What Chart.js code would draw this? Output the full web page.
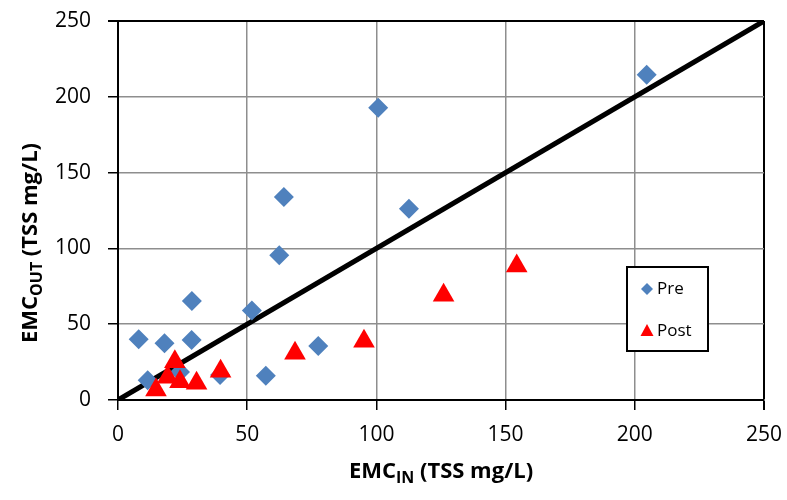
<!DOCTYPE html>
<html>
<head>
<meta charset="utf-8">
<script src="https://cdn.jsdelivr.net/npm/chart.js@4/dist/chart.umd.min.js"></script>
<style>
  body { margin: 0; background: #fff; }
  #wrap { width: 787px; height: 500px; }
</style>
</head>
<body>
<div id="wrap"><canvas id="grafico" width="787" height="500"></canvas></div>
<script>
// ========== DATOS ==========
const preX  = [8, 18, 11.5, 24, 28.6, 28.5, 39.5, 51.8, 57.2, 62.4, 64.2, 77.5, 100.7, 112.6, 204.6];
const preY  = [40, 37.5, 13, 18.5, 65.3, 39.5, 16.5, 59, 16, 95.4, 133.9, 35.7, 192.7, 126.2, 214.5];
const postX = [14.7, 19.2, 22, 24, 30.4, 39.7, 68.5, 95.2, 126, 154.3];
const postY = [6.6, 15, 25.2, 12, 11, 19, 30.9, 38.8, 69.1, 88.4];
const lineaX = [0, 250];
const lineaY = [0, 250];
const ticksEje = [0, 50, 100, 150, 200, 250];
const etiquetasSerie = ['Pre', 'Post'];

const FUENTE = "'Open Sans', 'DejaVu Sans', sans-serif";
const AZUL = '#4f81bd';
const ROJO = '#ff0000';

const puntos = (xs, ys) => xs.map((x, i) => ({ x, y: ys[i] }));

// ========== PLUGIN: titulos con subindice y leyenda ==========
function textoConSub(ctx, base, sub, resto, x, y, size) {
  const subSize = Math.round(size * 0.72);
  ctx.font = `bold ${size}px ${FUENTE}`;
  const w1 = ctx.measureText(base).width;
  const w3 = ctx.measureText(resto).width;
  ctx.font = `bold ${subSize}px ${FUENTE}`;
  const w2 = ctx.measureText(sub).width;
  let cx = x - (w1 + w2 + w3) / 2;
  ctx.textAlign = 'left';
  ctx.textBaseline = 'alphabetic';
  ctx.font = `bold ${size}px ${FUENTE}`;
  ctx.fillText(base, cx, y);
  cx += w1;
  ctx.font = `bold ${subSize}px ${FUENTE}`;
  ctx.fillText(sub, cx, y + 5);
  cx += w2;
  ctx.font = `bold ${size}px ${FUENTE}`;
  ctx.fillText(resto, cx, y);
}

const extras = {
  id: 'extras',
  afterDraw(chart) {
    const ctx = chart.ctx;
    const area = chart.chartArea;
    ctx.save();
    ctx.fillStyle = '#000';

    // titulo eje X
    textoConSub(ctx, 'EMC', 'IN', ' (TSS mg/L)', (area.left + area.right) / 2, 478, 22);

    // titulo eje Y
    ctx.save();
    ctx.translate(37, 243);
    ctx.rotate(-Math.PI / 2);
    textoConSub(ctx, 'EMC', 'OUT', ' (TSS mg/L)', 0, 0, 22);
    ctx.restore();

    // leyenda
    const lx = 627, ly = 267, lw = 81, lh = 84;
    ctx.fillStyle = '#fff';
    ctx.fillRect(lx, ly, lw, lh);
    ctx.strokeStyle = '#000';
    ctx.lineWidth = 2;
    ctx.strokeRect(lx, ly, lw, lh);

    // diamante
    const dx = 647, dy = 289, r = 6;
    ctx.fillStyle = AZUL;
    ctx.beginPath();
    ctx.moveTo(dx, dy - r); ctx.lineTo(dx + r, dy); ctx.lineTo(dx, dy + r); ctx.lineTo(dx - r, dy);
    ctx.closePath();
    ctx.fill();

    // triangulo
    const tx = 647, ty = 331;
    ctx.fillStyle = ROJO;
    ctx.beginPath();
    ctx.moveTo(tx, ty - 7); ctx.lineTo(tx + 6.5, ty + 5); ctx.lineTo(tx - 6.5, ty + 5);
    ctx.closePath();
    ctx.fill();

    ctx.fillStyle = '#000';
    ctx.font = `17px ${FUENTE}`;
    ctx.textAlign = 'left';
    ctx.textBaseline = 'middle';
    ctx.fillText(etiquetasSerie[0], 657, dy);
    ctx.fillText(etiquetasSerie[1], 657, ty);
    ctx.restore();
  }
};

// ========== GRAFICO ==========
const sinRelleno = s => { s.paddingTop = 0; s.paddingBottom = 0; s.paddingLeft = 0; s.paddingRight = 0; };

const ejeComun = {
  type: 'linear',
  min: ticksEje[0],
  max: ticksEje[ticksEje.length - 1],
  afterBuildTicks: scale => { scale.ticks = ticksEje.map(v => ({ value: v })); },
  ticks: { color: '#000', font: { family: FUENTE, size: 21 } },
  grid: {
    color: c => (c.tick && c.tick.value === 250) ? '#000' : '#8e8e8e',
    lineWidth: c => (c.tick && c.tick.value === 250) ? 2 : 1.5,
    tickColor: '#000',
    tickLength: 10
  },
  border: { color: '#000', width: 2 }
};

new Chart(document.getElementById('grafico'), {
  type: 'scatter',
  data: {
    datasets: [
      {
        label: 'Post',
        data: puntos(postX, postY),
        pointStyle: 'triangle',
        pointRadius: 12.5,
        pointHoverRadius: 12.5,
        backgroundColor: ROJO,
        borderColor: ROJO,
        borderWidth: 0,
        order: 0
      },
      {
        label: 'Pre',
        data: puntos(preX, preY),
        pointStyle: 'rectRot',
        pointRadius: 10,
        pointHoverRadius: 10,
        backgroundColor: AZUL,
        borderColor: AZUL,
        borderWidth: 0,
        order: 1
      },
      {
        type: 'line',
        label: '1:1',
        data: puntos(lineaX, lineaY),
        borderColor: '#000',
        borderWidth: 5,
        pointRadius: 0,
        fill: false,
        order: 2
      }
    ]
  },
  options: {
    responsive: false,
    animation: false,
    devicePixelRatio: 1,
    layout: { padding: { top: 21, right: 23, left: 0, bottom: 0 } },
    plugins: { legend: { display: false }, tooltip: { enabled: false } },
    scales: {
      x: Object.assign({}, ejeComun, {
        position: 'bottom',
        ticks: Object.assign({}, ejeComun.ticks, { padding: 12, maxRotation: 0 }),
        afterFit: s => { s.height = 100; sinRelleno(s); }
      }),
      y: Object.assign({}, ejeComun, {
        position: 'left',
        ticks: Object.assign({}, ejeComun.ticks, { padding: 17 }),
        afterFit: s => { s.width = 118; sinRelleno(s); }
      })
    }
  },
  plugins: [extras]
});
</script>
</body>
</html>
